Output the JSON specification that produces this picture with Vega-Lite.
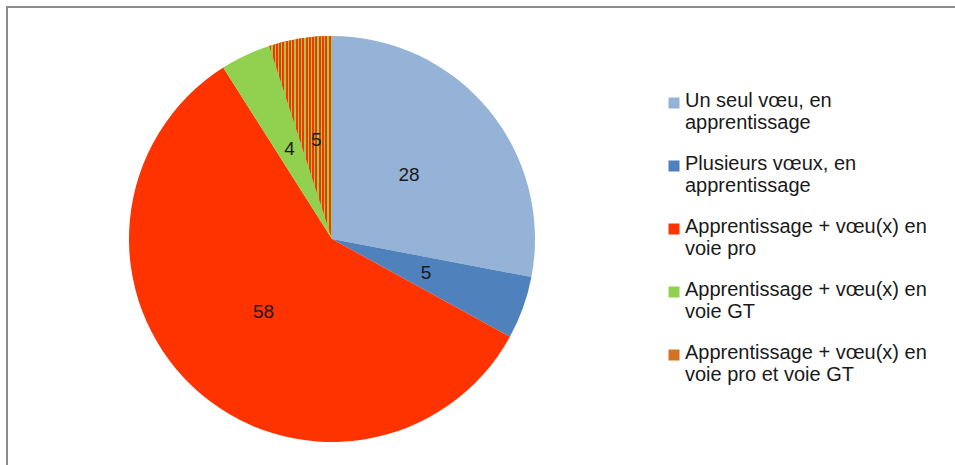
{
  "$schema": "https://vega.github.io/schema/vega-lite/v6.json",
  "width": 652,
  "height": 466,
  "padding": {"left": 5, "top": 5, "right": 0, "bottom": 0},
  "background": "white",
  "config": {"view": {"stroke": null}, "style": {"guide-label": {"dy": 4}}},
  "data": {"values": [
    {"cat": "Un seul vœu, en apprentissage", "v": 28, "o": 1},
    {"cat": "Plusieurs vœux, en apprentissage", "v": 5, "o": 2},
    {"cat": "Apprentissage + vœu(x) en voie pro", "v": 58, "o": 3},
    {"cat": "Apprentissage + vœu(x) en voie GT", "v": 4, "o": 4},
    {"cat": "Apprentissage + vœu(x) en voie pro et voie GT", "v": 5, "o": 5}
  ]},
  "layer": [
    {
      "mark": {"type": "arc", "outerRadius": 203, "strokeWidth": 0},
      "encoding": {
        "theta": {"field": "v", "type": "quantitative", "stack": true},
        "order": {"field": "o", "type": "quantitative"},
        "color": {
          "field": "cat", "type": "nominal",
          "scale": {
            "domain": ["Un seul vœu, en apprentissage", "Plusieurs vœux, en apprentissage", "Apprentissage + vœu(x) en voie pro", "Apprentissage + vœu(x) en voie GT", "Apprentissage + vœu(x) en voie pro et voie GT"],
            "range": ["#95B3D7", "#4F81BD", "#FF3300", "#92D050", "#D37220"]
          },
          "legend": {
            "title": null,
            "orient": "none",
            "legendX": 658,
            "legendY": 87,
            "padding": 0,
            "symbolType": "square",
            "symbolSize": 121,
            "symbolStrokeWidth": 0,
            "symbolOffset": 0,
            "labelFont": "Liberation Sans",
            "labelFontSize": 20,
            "labelColor": "#1a1a1a",
            "labelLimit": 400,
            "labelOffset": 1,
            "labelBaseline": "alphabetic",
            "rowPadding": 21,
            "labelExpr": "split(replace(replace(datum.label, ', en ', ', en|'), ' en voie', ' en|voie'), '|')"
          }
        }
      }
    },
    {
      "mark": {"type": "arc", "outerRadius": 203, "strokeWidth": 0, "fill": {"gradient": "linear", "x1": 0, "x2": 1, "y1": 0, "y2": 0, "stops": [
        {"offset": 0, "color": "#FF3300"}, {"offset": 0.0316, "color": "#FF3300"}, {"offset": 0.0316, "color": "#92D050"}, {"offset": 0.0526, "color": "#92D050"},
        {"offset": 0.0526, "color": "#FF3300"}, {"offset": 0.0842, "color": "#FF3300"}, {"offset": 0.0842, "color": "#92D050"}, {"offset": 0.1053, "color": "#92D050"},
        {"offset": 0.1053, "color": "#FF3300"}, {"offset": 0.1368, "color": "#FF3300"}, {"offset": 0.1368, "color": "#92D050"}, {"offset": 0.1579, "color": "#92D050"},
        {"offset": 0.1579, "color": "#FF3300"}, {"offset": 0.1895, "color": "#FF3300"}, {"offset": 0.1895, "color": "#92D050"}, {"offset": 0.2105, "color": "#92D050"},
        {"offset": 0.2105, "color": "#FF3300"}, {"offset": 0.2421, "color": "#FF3300"}, {"offset": 0.2421, "color": "#92D050"}, {"offset": 0.2632, "color": "#92D050"},
        {"offset": 0.2632, "color": "#FF3300"}, {"offset": 0.2947, "color": "#FF3300"}, {"offset": 0.2947, "color": "#92D050"}, {"offset": 0.3158, "color": "#92D050"},
        {"offset": 0.3158, "color": "#FF3300"}, {"offset": 0.3474, "color": "#FF3300"}, {"offset": 0.3474, "color": "#92D050"}, {"offset": 0.3684, "color": "#92D050"},
        {"offset": 0.3684, "color": "#FF3300"}, {"offset": 0.4, "color": "#FF3300"}, {"offset": 0.4, "color": "#92D050"}, {"offset": 0.4211, "color": "#92D050"},
        {"offset": 0.4211, "color": "#FF3300"}, {"offset": 0.4526, "color": "#FF3300"}, {"offset": 0.4526, "color": "#92D050"}, {"offset": 0.4737, "color": "#92D050"},
        {"offset": 0.4737, "color": "#FF3300"}, {"offset": 0.5053, "color": "#FF3300"}, {"offset": 0.5053, "color": "#92D050"}, {"offset": 0.5263, "color": "#92D050"},
        {"offset": 0.5263, "color": "#FF3300"}, {"offset": 0.5579, "color": "#FF3300"}, {"offset": 0.5579, "color": "#92D050"}, {"offset": 0.5789, "color": "#92D050"},
        {"offset": 0.5789, "color": "#FF3300"}, {"offset": 0.6105, "color": "#FF3300"}, {"offset": 0.6105, "color": "#92D050"}, {"offset": 0.6316, "color": "#92D050"},
        {"offset": 0.6316, "color": "#FF3300"}, {"offset": 0.6632, "color": "#FF3300"}, {"offset": 0.6632, "color": "#92D050"}, {"offset": 0.6842, "color": "#92D050"},
        {"offset": 0.6842, "color": "#FF3300"}, {"offset": 0.7158, "color": "#FF3300"}, {"offset": 0.7158, "color": "#92D050"}, {"offset": 0.7368, "color": "#92D050"},
        {"offset": 0.7368, "color": "#FF3300"}, {"offset": 0.7684, "color": "#FF3300"}, {"offset": 0.7684, "color": "#92D050"}, {"offset": 0.7895, "color": "#92D050"},
        {"offset": 0.7895, "color": "#FF3300"}, {"offset": 0.8211, "color": "#FF3300"}, {"offset": 0.8211, "color": "#92D050"}, {"offset": 0.8421, "color": "#92D050"},
        {"offset": 0.8421, "color": "#FF3300"}, {"offset": 0.8737, "color": "#FF3300"}, {"offset": 0.8737, "color": "#92D050"}, {"offset": 0.8947, "color": "#92D050"},
        {"offset": 0.8947, "color": "#FF3300"}, {"offset": 0.9263, "color": "#FF3300"}, {"offset": 0.9263, "color": "#92D050"}, {"offset": 0.9474, "color": "#92D050"},
        {"offset": 0.9474, "color": "#FF3300"}, {"offset": 0.9789, "color": "#FF3300"}, {"offset": 0.9789, "color": "#92D050"}, {"offset": 1, "color": "#92D050"}
      ]}},
      "encoding": {
        "theta": {"field": "v", "type": "quantitative", "stack": true},
        "order": {"field": "o", "type": "quantitative"},
        "fillOpacity": {"condition": {"test": "datum.o == 5", "value": 1}, "value": 0}
      }
    },
    {
      "mark": {"type": "text", "radius": 100, "font": "Liberation Sans", "fontSize": 19, "color": "#1a1a1a", "align": "center", "baseline": "middle"},
      "encoding": {
        "theta": {"field": "v", "type": "quantitative", "stack": true},
        "order": {"field": "o", "type": "quantitative"},
        "text": {"field": "v", "type": "quantitative"}
      }
    },
    {
      "data": {"values": [{}]},
      "mark": {"type": "rule", "color": "#8c8c8c", "strokeWidth": 2},
      "encoding": {"x": {"value": 1}, "y": {"value": 0}, "y2": {"value": 470}}
    },
    {
      "data": {"values": [{}]},
      "mark": {"type": "rule", "color": "#8c8c8c", "strokeWidth": 2},
      "encoding": {"y": {"value": 1}, "x": {"value": 0}, "x2": {"value": 950}}
    }
  ]
}
